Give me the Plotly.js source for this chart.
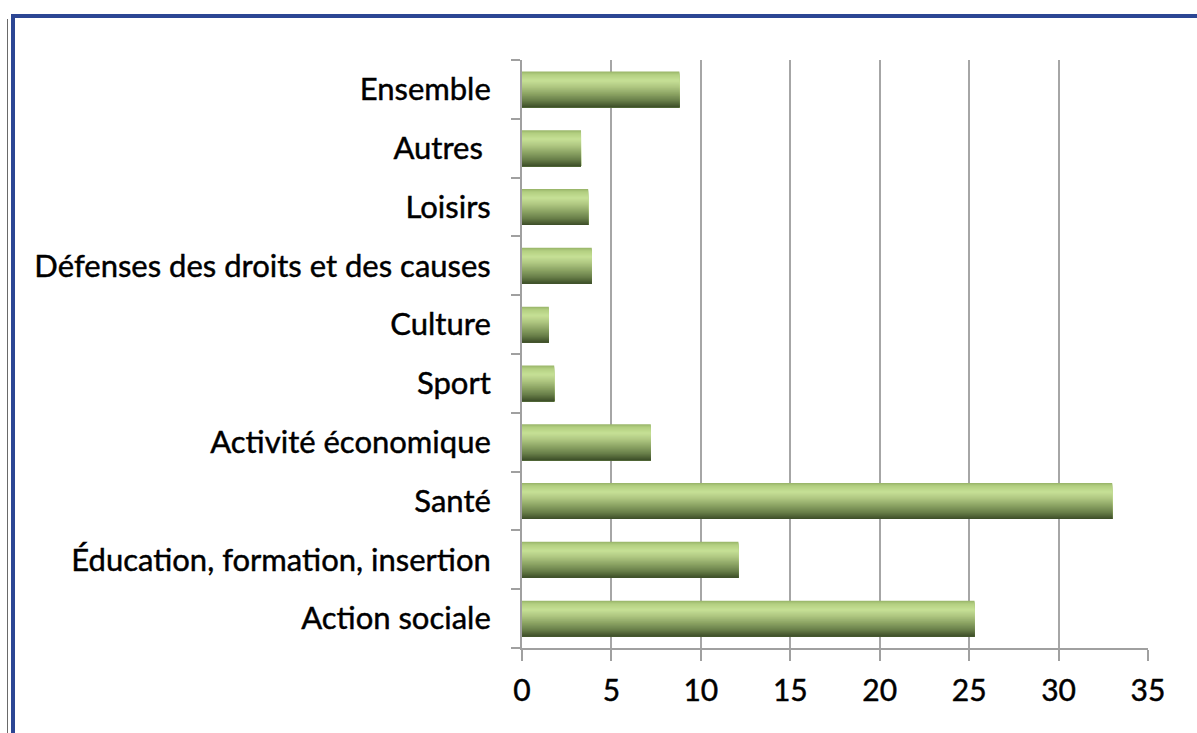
<!DOCTYPE html>
<html>
<head>
<meta charset="utf-8">
<script src="https://cdn.plot.ly/plotly-3.0.1.min.js"></script>
<style>
  html, body { margin: 0; padding: 0; background: #ffffff; }
  #wrap { position: relative; width: 1197px; height: 733px; overflow: hidden; background: #fff; }
  #chart { position: absolute; left: 0; top: 0; width: 1197px; height: 733px; }
  #frame { position: absolute; left: 11px; top: 14px; width: 1300px; height: 800px;
           border-top: 4px solid #2C4694; border-left: 4px solid #2C4694; pointer-events: none; }
  #frame2 { position: absolute; left: 7px; top: 19px; width: 1px; height: 800px; background: #6a6a6a; pointer-events: none; }
  #chart .xtick text, #chart .ytick text { stroke: #000; stroke-width: 0.45px; }
</style>
</head>
<body>
<div id="wrap">
  <div id="chart"></div>
  <div id="frame"></div>
  <div id="frame2"></div>
</div>
<script>
// Categories, bottom to top
const categories = [
  "Action sociale",
  "Éducation, formation, insertion",
  "Santé",
  "Activité économique",
  "Sport",
  "Culture",
  "Défenses des droits et des causes",
  "Loisirs",
  "Autres\u00a0",
  "Ensemble"
];
const values = [25.3, 12.1, 33.0, 7.2, 1.8, 1.5, 3.9, 3.7, 3.3, 8.8];
const xTickValues = [0, 5, 10, 15, 20, 25, 30, 35];

// Vertical gradient of the bars (top -> bottom)
const gradientStops = [
  [0.00, [150, 178, 102]],
  [0.08, [178, 206, 128]],
  [0.25, [198, 224, 150]],
  [0.42, [176, 200, 130]],
  [0.62, [140, 164, 100]],
  [0.82, [104, 126, 72]],
  [0.95, [72, 90, 48]],
  [1.00, [60, 76, 40]]
];

function colorAt(t) {
  for (let i = 1; i < gradientStops.length; i++) {
    const [t1, c1] = gradientStops[i];
    const [t0, c0] = gradientStops[i - 1];
    if (t <= t1) {
      const f = (t - t0) / (t1 - t0);
      const c = c0.map((v, k) => Math.round(v + (c1[k] - v) * f));
      return `rgb(${c[0]},${c[1]},${c[2]})`;
    }
  }
  const c = gradientStops[gradientStops.length - 1][1];
  return `rgb(${c[0]},${c[1]},${c[2]})`;
}

// Layered bars: each layer starts at the bar bottom and reaches a bit lower
// than the previous one, so only a thin band of each stays visible.
const barWidth = 0.61;
const bands = 36;
const traces = [];
for (let i = 0; i < bands; i++) {
  const t = (i + 0.5) / bands;
  const h = barWidth * (bands - i) / bands;
  traces.push({
    type: "bar",
    orientation: "h",
    x: values,
    y: categories,
    width: h,
    offset: -barWidth / 2,
    marker: { color: colorAt(t), line: { width: 0 } },
    hoverinfo: i === 0 ? "x+y" : "skip",
    showlegend: false
  });
}

const fontFamily = "Lato, 'Open Sans', sans-serif";

const layout = {
  width: 1197,
  height: 733,
  margin: { l: 522, r: 49, t: 60, b: 85 },
  paper_bgcolor: "#ffffff",
  plot_bgcolor: "#ffffff",
  barmode: "overlay",
  showlegend: false,
  xaxis: {
    range: [0, 35],
    tickvals: xTickValues,
    ticktext: xTickValues.map(String),
    showgrid: true,
    gridcolor: "#a6a6a6",
    gridwidth: 2,
    zeroline: false,
    showline: true,
    linecolor: "#a0a0a0",
    linewidth: 2,
    ticks: "outside",
    ticklen: 11,
    tickwidth: 2,
    tickcolor: "#a0a0a0",
    ticklabelstandoff: 4,
    tickfont: { family: fontFamily, size: 30, color: "#000000" },
    fixedrange: true
  },
  yaxis: {
    type: "category",
    categoryorder: "array",
    categoryarray: categories,
    range: [-0.5, categories.length - 0.5],
    tickson: "boundaries",
    ticks: "outside",
    ticklen: 9,
    tickwidth: 2,
    tickcolor: "#a0a0a0",
    showgrid: false,
    zeroline: false,
    showline: true,
    linecolor: "#a0a0a0",
    linewidth: 2,
    ticklabelstandoff: 23,
    tickfont: { family: fontFamily, size: 31, color: "#000000" },
    fixedrange: true
  }
};

Plotly.newPlot("chart", traces, layout, { displayModeBar: false, staticPlot: true });
</script>
</body>
</html>
